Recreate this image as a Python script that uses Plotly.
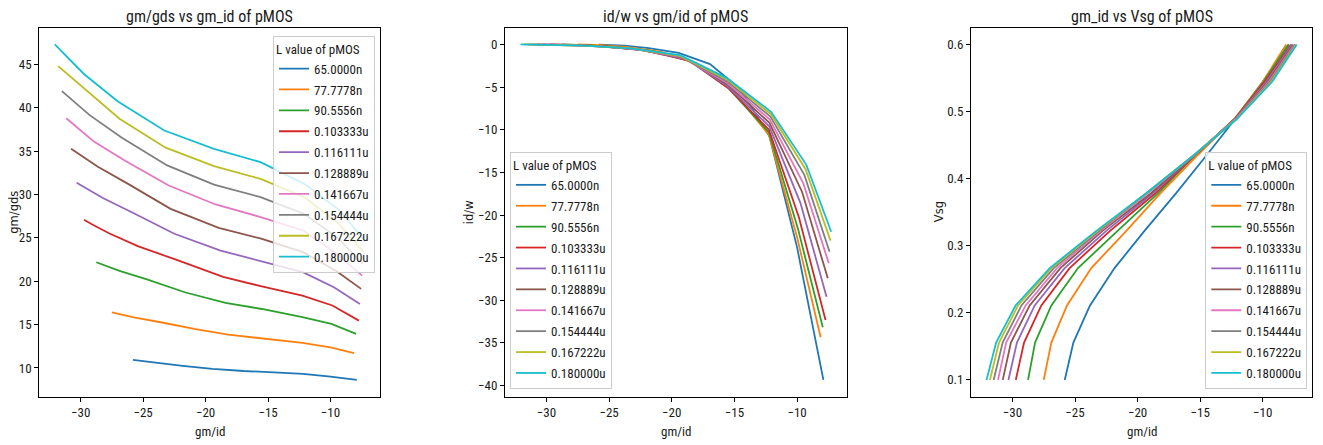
import plotly.graph_objects as go

# ---------------- data ----------------
L_labels = ["65.0000n", "77.7778n", "90.5556n", "0.103333u", "0.116111u",
            "0.128889u", "0.141667u", "0.154444u", "0.167222u", "0.180000u"]

vsg = [0.1, 0.1556, 0.2111, 0.2667, 0.3222, 0.3778, 0.4333, 0.4889, 0.5444, 0.6]

gm_id = [
    [-25.82, -25.13, -23.80, -21.84, -19.45, -16.95, -14.55, -12.20, -10.00, -7.90],
    [-27.50, -26.89, -25.64, -23.70, -20.90, -18.20, -15.30, -12.25, -10.00, -8.12],
    [-28.75, -28.19, -26.89, -24.76, -21.60, -18.40, -15.50, -12.25, -9.93, -7.95],
    [-29.73, -29.07, -27.69, -25.43, -22.20, -18.60, -15.50, -12.25, -9.85, -7.73],
    [-30.32, -29.64, -28.22, -25.83, -22.50, -18.80, -15.55, -12.22, -9.73, -7.65],
    [-30.77, -30.12, -28.62, -26.17, -22.80, -18.95, -15.55, -12.20, -9.60, -7.55],
    [-31.15, -30.50, -28.94, -26.44, -22.95, -19.20, -15.60, -12.17, -9.50, -7.47],
    [-31.50, -30.78, -29.28, -26.70, -23.07, -19.33, -15.60, -12.13, -9.42, -7.41],
    [-31.80, -31.07, -29.55, -26.89, -23.20, -19.33, -15.60, -12.10, -9.33, -7.33],
    [-32.07, -31.30, -29.74, -27.02, -23.30, -19.33, -15.60, -12.07, -9.25, -7.28],
]

gm_gds = [
    [10.93, 10.80, 10.60, 10.25, 9.90, 9.65, 9.50, 9.31, 9.00, 8.62],
    [16.42, 16.20, 15.80, 15.30, 14.50, 13.85, 13.40, 12.88, 12.38, 11.70],
    [22.19, 21.90, 21.20, 20.25, 18.70, 17.50, 16.80, 15.85, 15.08, 13.93],
    [27.10, 26.55, 25.50, 24.05, 22.40, 20.50, 19.40, 18.35, 17.20, 15.46],
    [31.35, 30.80, 29.60, 27.90, 25.47, 23.54, 22.30, 21.04, 19.30, 17.38],
    [35.27, 34.65, 33.20, 31.20, 28.35, 26.16, 24.90, 23.35, 21.23, 19.12],
    [38.80, 38.00, 36.10, 33.90, 31.04, 28.85, 27.40, 25.85, 23.15, 20.65],
    [41.92, 41.02, 39.15, 36.55, 33.35, 31.15, 29.70, 27.77, 25.00, 22.00],
    [44.80, 43.90, 42.00, 38.73, 35.40, 33.27, 31.80, 29.70, 26.60, 23.30],
    [47.30, 46.20, 43.90, 40.73, 37.38, 35.27, 33.73, 31.20, 28.15, 24.70],
]

id_w = [
    [-0.015, -0.05, -0.15, -0.42, -1.00, -2.30, -5.20, -10.80, -23.80, -39.34],
    [-0.010, -0.03, -0.09, -0.30, -0.85, -2.20, -5.10, -10.60, -22.60, -34.34],
    [-0.008, -0.025, -0.07, -0.25, -0.75, -2.00, -5.10, -10.30, -21.60, -33.17],
    [-0.007, -0.02, -0.06, -0.22, -0.70, -1.90, -5.10, -10.00, -20.30, -32.31],
    [-0.006, -0.018, -0.055, -0.20, -0.62, -1.75, -4.90, -9.60, -18.60, -29.58],
    [-0.005, -0.016, -0.05, -0.18, -0.57, -1.60, -4.70, -9.20, -17.30, -27.42],
    [-0.005, -0.015, -0.045, -0.17, -0.53, -1.50, -4.50, -8.80, -16.30, -25.67],
    [-0.004, -0.014, -0.042, -0.16, -0.50, -1.40, -4.30, -8.45, -15.30, -24.30],
    [-0.004, -0.013, -0.040, -0.15, -0.47, -1.35, -4.10, -8.15, -14.60, -23.00],
    [-0.004, -0.012, -0.038, -0.14, -0.45, -1.25, -3.95, -7.90, -14.15, -21.96],
]

x_ticks = [-30, -25, -20, -15, -10]
y1_ticks = [10, 15, 20, 25, 30, 35, 40, 45]
y2_ticks = [0, -5, -10, -15, -20, -25, -30, -35, -40]
y3_ticks = [0.1, 0.2, 0.3, 0.4, 0.5, 0.6]

titles = ["gm/gds vs gm_id of pMOS", "id/w vs gm/id of pMOS", "gm_id vs Vsg of pMOS"]
x_label = "gm/id"
y_labels = ["gm/gds", "id/w", "Vsg"]
legend_title = "L value of pMOS"

colors = ["#1f77b4", "#ff7f0e", "#2ca02c", "#d62728", "#9467bd",
          "#8c564b", "#e377c2", "#7f7f7f", "#bcbd22", "#17becf"]

# ---------------- figure ----------------
OFF = 8  # page body margin
W, H = 1323 - OFF, 445 - OFF
NARROW = "Roboto Condensed, DejaVu Sans Condensed, sans-serif"
REG = "DejaVu Sans, sans-serif"
TXT = "#1a1a1a"


def px_x(v):
    return (v - OFF) / W


def px_y(v):
    return 1 - (v - OFF) / H


def padded(vals, frac=0.05):
    lo, hi = min(vals), max(vals)
    d = (hi - lo) * frac
    return [lo - d, hi + d]


all_x = [v for row in gm_id for v in row]
all_y1 = [v for row in gm_gds for v in row]
all_y2 = [v for row in id_w for v in row]
all_y3 = list(vsg)

fig = go.Figure()
panels = [("x", "y", "legend"), ("x2", "y2", "legend2"), ("x3", "y3", "legend3")]
for p, (xa, ya, lg) in enumerate(panels):
    for i, lab in enumerate(L_labels):
        ys = [gm_gds[i], id_w[i], vsg][p]
        fig.add_trace(go.Scatter(
            x=gm_id[i], y=ys, mode="lines", name=lab,
            line=dict(color=colors[i], width=1.8),
            legendgroup="p%d_%d" % (p, i),
            xaxis=xa, yaxis=ya, legend=lg, hoverinfo="skip"))

top_px, bot_px = 27.7, 396.7
ydom = [px_y(bot_px), px_y(top_px)]
x_px = [(39.3, 380.0), (505.0, 846.7), (971.0, 1312.3)]


def axis_common():
    return dict(showline=True, linecolor="#000000", linewidth=1, mirror=True,
                ticks="outside", ticklen=4, tickwidth=1, tickcolor="#000000",
                showgrid=False, zeroline=False,
                tickfont=dict(family=NARROW, size=13, color=TXT))


xr = padded(all_x)
layout_axes = {}
yvals = [(all_y1, y1_ticks), (all_y2, y2_ticks), (all_y3, y3_ticks)]
for k in range(3):
    sx = "" if k == 0 else str(k + 1)
    xd = [px_x(x_px[k][0]), px_x(x_px[k][1])]
    layout_axes["xaxis" + sx] = dict(axis_common(), domain=xd, anchor="y" + sx,
                                    range=xr, tickvals=x_ticks)
    layout_axes["yaxis" + sx] = dict(axis_common(), domain=ydom, anchor="x" + sx,
                                    range=padded(yvals[k][0]), tickvals=yvals[k][1])

leg_common = dict(bgcolor="rgba(255,255,255,0.8)", bordercolor="#cccccc", borderwidth=1,
                  font=dict(family=NARROW, size=13, color=TXT),
                  title=dict(text=legend_title, font=dict(family=NARROW, size=13, color=TXT)),
                  itemwidth=30, tracegroupgap=1)

fig.update_layout(
    width=W, height=H, margin=dict(l=0, r=0, t=0, b=0),
    paper_bgcolor="white", plot_bgcolor="white", showlegend=True,
    legend=dict(leg_common, x=px_x(375), xanchor="right", y=px_y(35.7), yanchor="top"),
    legend2=dict(leg_common, x=px_x(510), xanchor="left", y=px_y(389), yanchor="bottom"),
    legend3=dict(leg_common, x=px_x(1307.3), xanchor="right", y=px_y(389), yanchor="bottom"),
    **layout_axes,
)

annots = []
ylab_px = [14.5, 469.0, 939.0]
for k in range(3):
    cx = px_x((x_px[k][0] + x_px[k][1]) / 2)
    annots.append(dict(text=titles[k], x=cx, y=px_y(16.5), xref="paper", yref="paper",
                       showarrow=False, xanchor="center", yanchor="middle",
                       font=dict(family=NARROW, size=16, color=TXT)))
    annots.append(dict(text=x_label, x=cx, y=px_y(431.0), xref="paper", yref="paper",
                       showarrow=False, xanchor="center", yanchor="middle",
                       font=dict(family=NARROW, size=13, color=TXT)))
    annots.append(dict(text=y_labels[k], x=px_x(ylab_px[k]), y=px_y(212.2),
                       xref="paper", yref="paper", showarrow=False, textangle=-90,
                       xanchor="center", yanchor="middle",
                       font=dict(family=REG, size=11.5, color=TXT)))
fig.update_layout(annotations=annots)

fig.write_html("out.html")
